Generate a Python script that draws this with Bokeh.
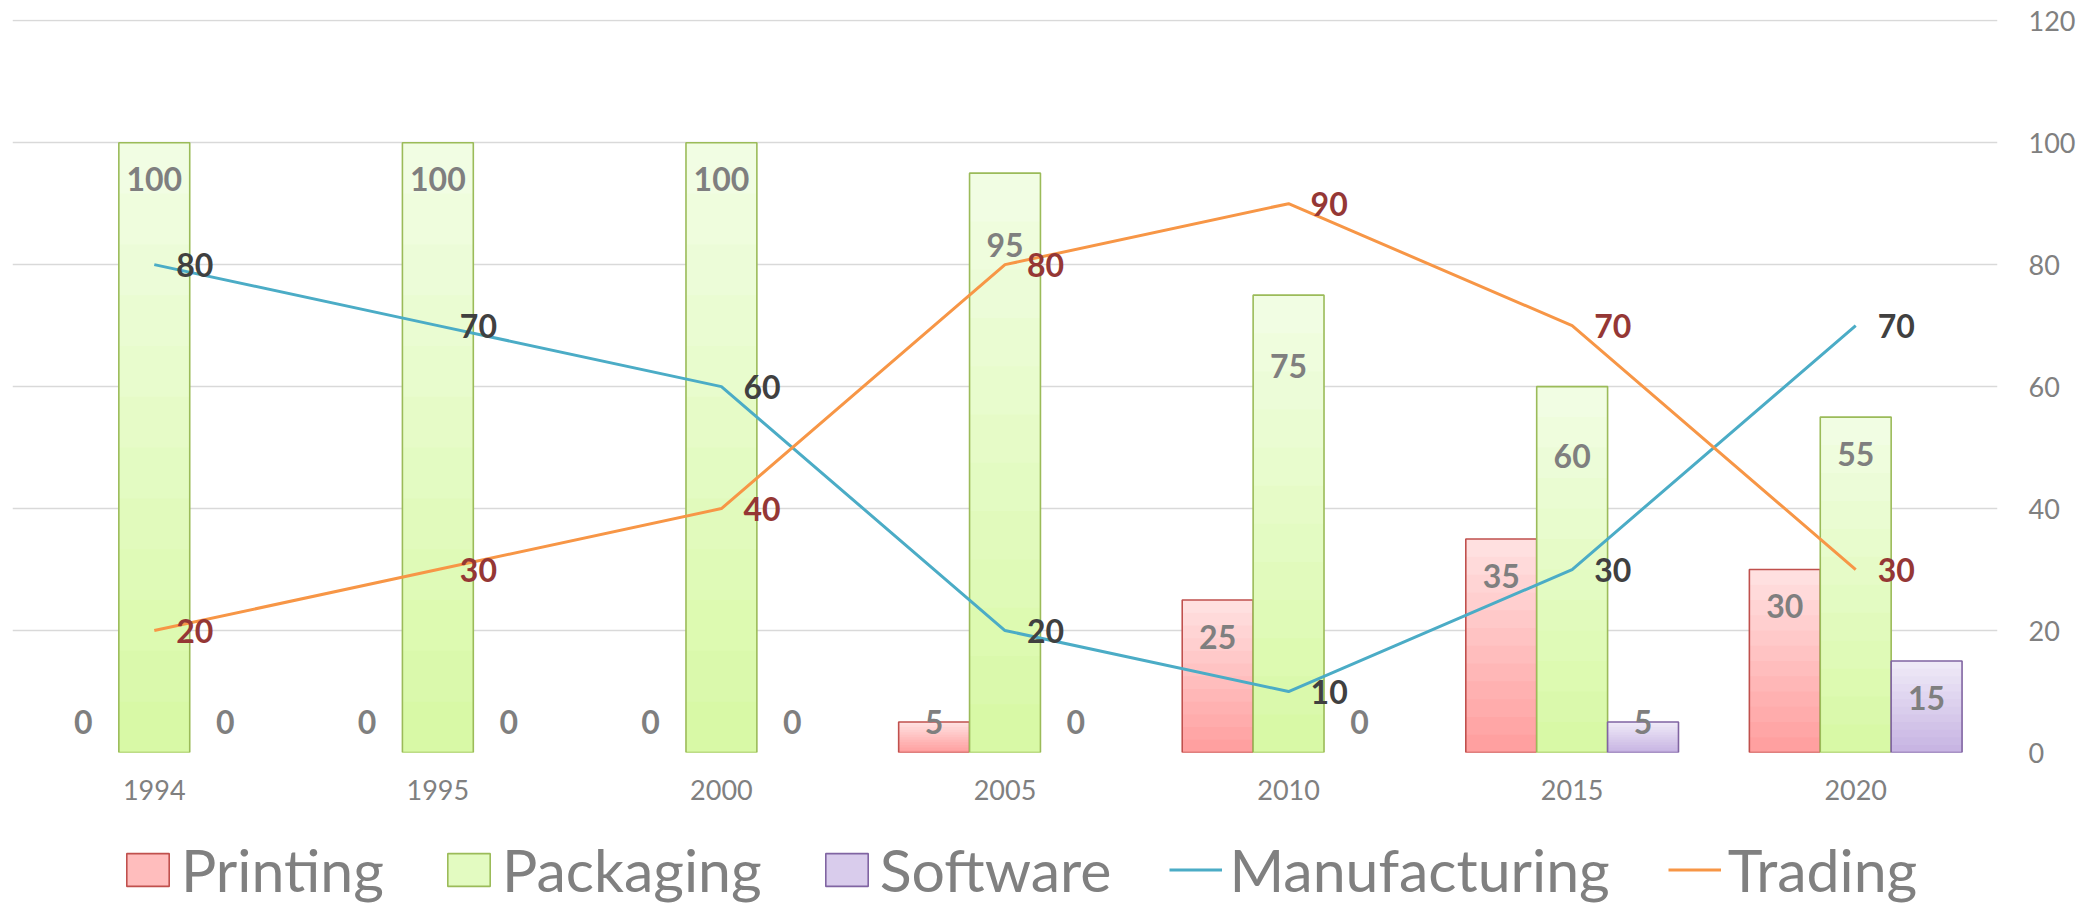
from bokeh.plotting import figure
from bokeh.layouts import column
from bokeh.models import FactorRange, Range1d, Legend, LegendItem, ColumnDataSource, FixedTicker
from bokeh.transform import dodge
from bokeh.core.properties import value
from bokeh.embed import file_html
from bokeh.resources import INLINE

# ---- data ----
years = ["1994", "1995", "2000", "2005", "2010", "2015", "2020"]
printing = [0, 0, 0, 5, 25, 35, 30]
packaging = [100, 100, 100, 95, 75, 60, 55]
software = [0, 0, 0, 0, 0, 5, 15]
manufacturing = [80, 70, 60, 20, 10, 30, 70]
trading = [20, 30, 40, 80, 90, 70, 30]
y_ticks = [0, 20, 40, 60, 80, 100, 120]

# label drop (in axis units) below the bar top, styling only
pack_label_drop = [6, 6, 6, 11.8, 11.7, 11.4, 6]

FONT = "Lato"
GREY = "#808080"
W = 2095

p = figure(x_range=FactorRange(factors=years), y_range=Range1d(0, 120.2),
           width=W, height=826, output_backend="svg", toolbar_location=None,
           y_axis_location="right", min_border_left=12, min_border_top=19,
           min_border_right=98, min_border_bottom=74)
p.outline_line_color = None
p.background_fill_color = "white"

p.xgrid.grid_line_color = None
p.ygrid.grid_line_color = "#d9d9d9"
p.ygrid.grid_line_width = 1.5
p.yaxis.ticker = FixedTicker(ticks=y_ticks)

for ax in (p.xaxis[0], p.yaxis[0]):
    ax.axis_line_color = None
    ax.major_tick_line_color = None
    ax.minor_tick_line_color = None
    ax.major_label_text_font = FONT
    ax.major_label_text_font_size = "27px"
    ax.major_label_text_color = GREY
p.yaxis.major_label_standoff = 31
p.xaxis.major_label_standoff = 27
p.yaxis.major_tick_out = 0
p.xaxis.major_tick_out = 0


def hex2rgb(h):
    h = h.lstrip("#")
    return tuple(int(h[i:i + 2], 16) for i in (0, 2, 4))


def mix(a, b, t):
    ra, rb = hex2rgb(a), hex2rgb(b)
    return "#%02x%02x%02x" % tuple(round(ra[i] + (rb[i] - ra[i]) * t) for i in range(3))


series = [
    ("Printing", printing, -0.25, "#ffe0e0", "#ffa0a0", "#c0504d"),
    ("Packaging", packaging, 0.0, "#f1fde3", "#d8f9a6", "#9bbb59"),
    ("Software", software, 0.25, "#eee9f7", "#c8b5e3", "#8064a2"),
]

N = 12
for name, vals, off, ctop, cbot, cline in series:
    xs = dodge("year", off, range=p.x_range)
    for k in range(N):
        frac = 1 - k / N
        src = ColumnDataSource(dict(year=years, h=[v * frac for v in vals]))
        p.vbar(x=xs, top="h", width=0.25, source=src,
               fill_color=mix(ctop, cbot, k / (N - 1)), line_color=None)
    src = ColumnDataSource(dict(year=years, h=vals,
                                lc=[cline if v > 0 else "rgba(0,0,0,0)" for v in vals]))
    p.vbar(x=xs, top="h", width=0.25, source=src, fill_color=None,
           line_color="lc", line_width=1.6)

line_src = ColumnDataSource(dict(year=years, m=manufacturing, t=trading,
                                 ml=[str(v) for v in manufacturing],
                                 tl=[str(v) for v in trading]))
p.line(x="year", y="m", source=line_src, line_color="#4bacc6", line_width=3)
p.line(x="year", y="t", source=line_src, line_color="#f79646", line_width=3)

# bar data labels
for (name, vals, off, ctop, cbot, cline) in series:
    if name == "Packaging":
        ly = [max(v - d, 5) for v, d in zip(vals, pack_label_drop)]
    else:
        ly = [max(v - 6, 5) for v in vals]
    src = ColumnDataSource(dict(year=years, ly=ly, lt=[str(v) for v in vals]))
    p.text(x=dodge("year", off, range=p.x_range), y="ly", text="lt", source=src,
           text_font=value(FONT), text_font_style="bold", text_font_size="32px",
           text_color="#7f7f7f", text_align="center", text_baseline="middle")

# line data labels
p.text(x="year", y="m", text="ml", source=line_src, x_offset=22,
       text_font=value(FONT), text_font_style="bold", text_font_size="32px",
       text_color="#404040", text_align="left", text_baseline="middle")
p.text(x="year", y="t", text="tl", source=line_src, x_offset=22,
       text_font=value(FONT), text_font_style="bold", text_font_size="32px",
       text_color="#953735", text_align="left", text_baseline="middle")

# ---- legend strip (swatches only; NaN placeholders draw nothing) ----
lg = figure(width=W, height=80, x_range=Range1d(0, 1), y_range=Range1d(0, 1),
            output_backend="svg", toolbar_location=None,
            x_axis_location=None, y_axis_location=None, min_border=0)
lg.outline_line_color = None
lg.grid.grid_line_color = None

nan = float("nan")
items = []
for name, vals, off, ctop, cbot, cline in series:
    r = lg.vbar(x="x", top="top", width=0.1,
                source=ColumnDataSource(dict(x=[nan], top=[nan])),
                fill_color=mix(ctop, cbot, 0.55), line_color=cline, line_width=1.6)
    items.append(LegendItem(label=name, renderers=[r]))
for name, col in (("Manufacturing", "#4bacc6"), ("Trading", "#f79646")):
    r = lg.line(x="x", y="top", source=ColumnDataSource(dict(x=[nan], top=[nan])),
                line_color=col, line_width=3)
    items.append(LegendItem(label=name, renderers=[r]))

legend = Legend(items=items, orientation="horizontal", location=(109, 1),
                label_text_font=FONT, label_text_font_size="59px",
                label_text_color=GREY, glyph_width=53, glyph_height=41,
                label_standoff=7, spacing=58, padding=0, margin=0,
                border_line_color=None, background_fill_alpha=0)
lg.add_layout(legend)

layout = column(p, lg, spacing=0)
open("out.html", "w").write(file_html(layout, INLINE))
